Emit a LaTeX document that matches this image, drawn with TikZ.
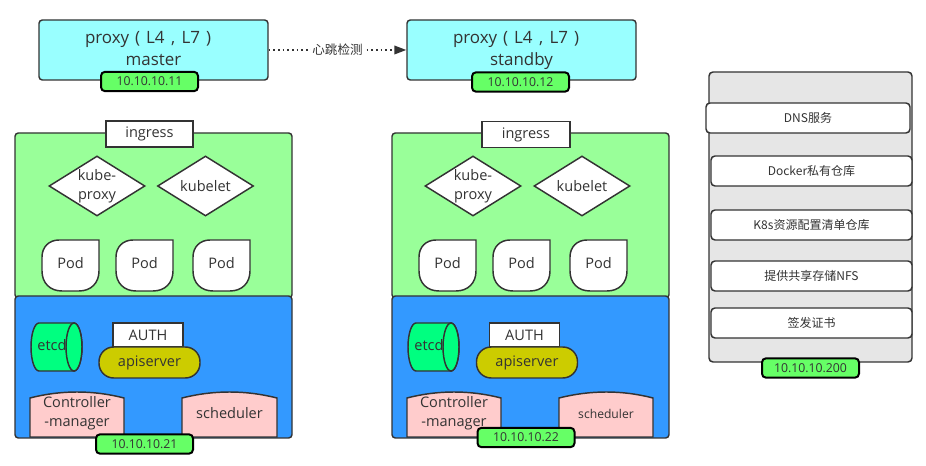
\documentclass[tikz,border=0pt]{standalone}
\usepackage{fontspec}
\setmainfont{Open Sans}
\newfontfamily\cjk{Noto Sans CJK SC}
\usetikzlibrary{shapes.geometric,arrows.meta}
\definecolor{ln}{HTML}{333333}
\definecolor{cyanf}{HTML}{99FFFF}
\definecolor{greenf}{HTML}{99FF99}
\definecolor{bluef}{HTML}{3399FF}
\definecolor{lblf}{HTML}{66FF66}
\definecolor{etcdf}{HTML}{00FF80}
\definecolor{apif}{HTML}{CCCC00}
\definecolor{pinkf}{HTML}{FFCCCC}
\definecolor{grayf}{HTML}{E6E6E6}
\newcommand{\fwch}[1]{\makebox[1em][c]{#1}}
\newcommand{\proxyline}{proxy\fwch{(}L4\fwch{,}L7\fwch{)}}
\tikzset{
 base/.style={draw=ln, line width=1.1pt, text=ln, inner sep=0pt},
 proxybox/.style={base, fill=cyanf, rounded corners=2.5pt, minimum width=171.75pt, minimum height=45pt},
 proxytext/.style={text=ln, inner sep=0pt, anchor=base, font=\fontsize{12.7}{15}\selectfont},
 iplabel/.style={draw=black, line width=1.5pt, fill=lblf, rounded corners=3pt, text=ln, inner sep=0pt, minimum width=72.75pt, minimum height=14.5pt, font=\fontsize{9.2}{11}\selectfont},
 zone/.style={base, rounded corners=2.5pt, minimum width=207.75pt},
 ctext/.style={text=ln, font=\fontsize{10.9}{14.25}\selectfont, align=center, inner sep=0pt},
 whitebox/.style={base, fill=white, font=\fontsize{10.9}{13}\selectfont},
 diam/.style={base, fill=white, diamond, aspect=1.6, minimum width=72pt, minimum height=45pt, align=center, font=\fontsize{10.9}{14}\selectfont},
 pinkshape/.style={draw=ln, line width=1.1pt, fill=pinkf},
 cylshape/.style={draw=ln, line width=1.1pt, fill=etcdf},
 panelitem/.style={base, fill=white, rounded corners=3pt, minimum width=150.75pt, minimum height=22.5pt, font=\cjk\fontsize{9}{11}\selectfont},
 podpic/.pic={
  \path[draw=ln, line width=1.1pt, fill=white] (57,0) -- (57,31) .. controls (57,43) and (49,51) .. (37,51) -- (20,51) .. controls (8,51) and (0,43) .. (0,31) -- (0,17) .. controls (0,7) and (7,0) .. (17,0) -- cycle;
  \node[ctext] (-t) at (28.5,23) {Pod};
 },
}
\begin{document}
\begin{tikzpicture}[x=0.75pt,y=-0.75pt]
\useasboundingbox (0,0) rectangle (926,466);

% proxies
\node[proxybox] (pm) at (153.5,50) {};
\node[proxytext] (pm1) at (151,44) {\proxyline};
\node[proxytext] (pm2) at (153.5,65.5) {master};
\node[proxybox] (ps) at (521.5,50) {};
\node[proxytext] (ps1) at (519,44) {\proxyline};
\node[proxytext] (ps2) at (521.5,65.5) {standby};
\draw[draw=ln, line width=1.2pt, dash pattern=on 1.3pt off 2.2pt, -{Triangle[length=9pt,width=6.5pt]}] (pm.east) -- node[fill=white, inner sep=1pt, text=ln, font=\cjk\fontsize{9.4}{11}\selectfont] (hb) {心跳检测} (ps.west);
\node[iplabel] (ipm) at (149.5,81.5) {10.10.10.11};
\node[iplabel] (ips) at (520.5,82) {10.10.10.12};

% cluster 1
\node[zone, fill=greenf, minimum height=123.75pt] (g1) at (153.5,215.5) {};
\node[zone, fill=bluef, minimum height=106.5pt] (b1) at (153.5,367) {};
\node[whitebox, minimum width=65.25pt, minimum height=19.5pt] (in1) at (149.5,134) {ingress};
\node[diam] (kp1) at (97,186) {kube-\\proxy};
\node[diam] (kl1) at (205.5,186) {kubelet};
\pic (pa1) at (42,240) {podpic};
\pic (pb1) at (116,240) {podpic};
\pic (pc1) at (193,240) {podpic};
\path[cylshape] (74,323) -- (39,323) arc[start angle=90, end angle=270, x radius=6pt, y radius=18pt] -- (74,371) arc[start angle=-90, end angle=90, x radius=6pt, y radius=18pt] -- cycle;
\draw[cylshape] (74,347) ellipse [x radius=6pt, y radius=18pt];
\node[ctext] (etcd1) at (52,345) {etcd};
\node[whitebox, minimum width=52.5pt, minimum height=18pt] (au1) at (148,335) {AUTH};
\node[base, fill=apif, rounded corners=11pt, minimum width=75.75pt, minimum height=23.25pt, font=\fontsize{10.9}{13}\selectfont] (api1) at (149.5,362.5) {apiserver};
\path[pinkshape] (30,437) -- (30,398) .. controls (61,390) and (93,390) .. (124,398) -- (124,437) -- cycle;
\node[ctext] (cm1) at (77,413) {Controller\\-manager};
\path[pinkshape] (182,437) -- (182,398) .. controls (214,390) and (245,390) .. (277,398) -- (277,437) -- cycle;
\node[ctext] (sc1) at (229.5,413) {scheduler};
\node[iplabel] (ip1) at (144.5,444) {10.10.10.21};

% cluster 2
\begin{scope}[shift={(377,0)}]
\node[zone, fill=greenf, minimum height=123.75pt] (g2) at (153.5,215.5) {};
\node[zone, fill=bluef, minimum height=106.5pt] (b2) at (153.5,367) {};
\node[whitebox, minimum width=66pt, minimum height=19.5pt] (in2) at (149,134.5) {ingress};
\node[diam] (kp2) at (96,186) {kube-\\proxy};
\node[diam] (kl2) at (205,186) {kubelet};
\pic (pa2) at (42,240) {podpic};
\pic (pb2) at (116,240) {podpic};
\pic (pc2) at (193,240) {podpic};
\path[cylshape] (74,323) -- (39,323) arc[start angle=90, end angle=270, x radius=6pt, y radius=18pt] -- (74,371) arc[start angle=-90, end angle=90, x radius=6pt, y radius=18pt] -- cycle;
\draw[cylshape] (74,347) ellipse [x radius=6pt, y radius=18pt];
\node[ctext] (etcd2) at (52,345) {etcd};
\node[whitebox, minimum width=52.5pt, minimum height=18pt] (au2) at (147.5,335) {AUTH};
\node[base, fill=apif, rounded corners=11pt, minimum width=75.75pt, minimum height=23.25pt, font=\fontsize{10.9}{13}\selectfont] (api2) at (150,362.5) {apiserver};
\path[pinkshape] (30,437) -- (30,398) .. controls (61,390) and (93,390) .. (124,398) -- (124,437) -- cycle;
\node[ctext] (cm2) at (77,413) {Controller\\-manager};
\path[pinkshape] (182,437) -- (182,398) .. controls (214,390) and (245,390) .. (276,398) -- (276,437) -- cycle;
\node[ctext, font=\fontsize{9.1}{11}\selectfont] (sc2) at (229,414) {scheduler};
\node[iplabel] (ip2) at (149,437.5) {10.10.10.22};
\end{scope}

% right panel
\node[base, fill=grayf, rounded corners=3pt, minimum width=152.25pt, minimum height=217.5pt] (panel) at (810.5,217) {};
\node[panelitem, minimum width=153pt] (dns) at (808,118) {DNS服务};
\node[panelitem] (dock) at (811.5,171) {Docker私有仓库};
\node[panelitem] (k8s) at (811.5,225) {K8s资源配置清单仓库};
\node[panelitem] (nfs) at (811.5,276) {提供共享存储NFS};
\node[panelitem] (cert) at (811.5,323) {签发证书};
\node[iplabel] (ip200) at (810.5,368) {10.10.10.200};
\end{tikzpicture}
\end{document}
